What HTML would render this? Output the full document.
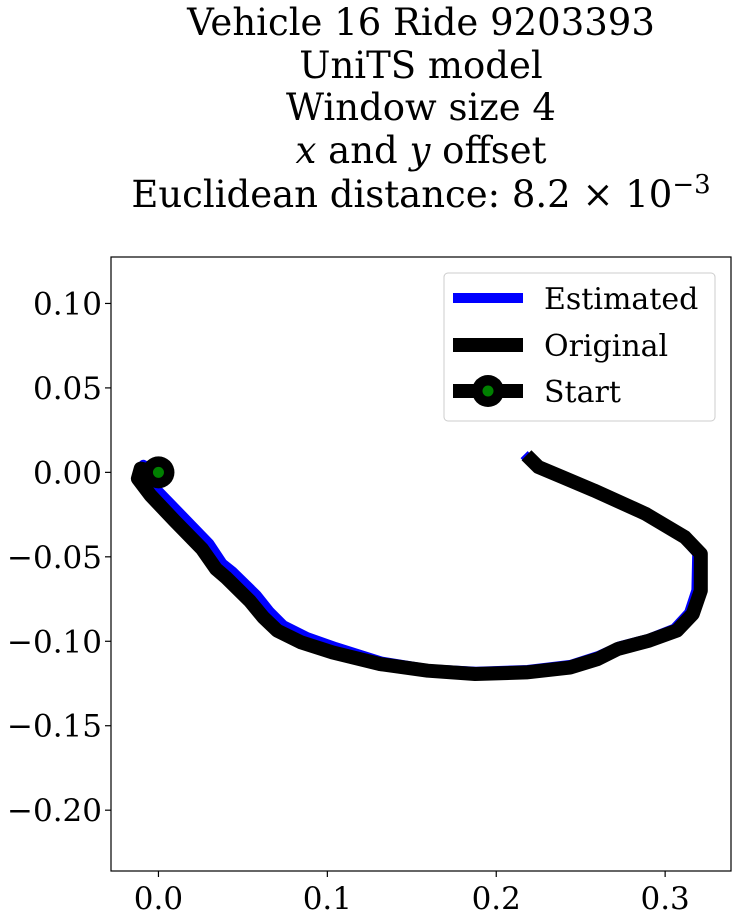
<!DOCTYPE html>
<html><head><meta charset="utf-8"><style>
html,body{margin:0;padding:0;background:#fff;}
svg{display:block;font-family:"DejaVu Serif","Liberation Serif",serif;}
</style></head><body>
<svg id="chart" width="738" height="920" viewBox="0 0 738 920">
<g font-size="37" text-anchor="middle" fill="#000">
<text x="421" y="35">Vehicle 16 Ride 9203393</text>
<text x="421" y="78">UniTS model</text>
<text x="421" y="120">Window size 4</text>
<text x="421" y="163"><tspan font-style="italic">x</tspan> and <tspan font-style="italic">y</tspan> offset</text>
<text x="421" y="207">Euclidean distance: 8.2 × 10<tspan dy="-14" font-size="26">−3</tspan></text>
</g>
<g id="plot"></g>
<rect x="111" y="257" width="620" height="614" fill="none" stroke="#000" stroke-width="1.2"/>
<g id="xaxis"></g>
<g id="yaxis"></g>
<g>
<rect x="444" y="273" width="271" height="148" rx="4" fill="#fff" stroke="#ccc" stroke-width="1"/>
<line x1="453" y1="298" x2="523" y2="298" stroke="#0000ff" stroke-width="10"/>
<text x="544" y="309" font-size="30">Estimated</text>
<line x1="453" y1="345" x2="523" y2="345" stroke="#000" stroke-width="14"/>
<text x="544" y="356" font-size="30">Original</text>
<line x1="453" y1="391" x2="523" y2="391" stroke="#000" stroke-width="14"/>
<circle cx="488" cy="391" r="16" fill="#000"/>
<circle cx="488" cy="391" r="5.5" fill="#008000"/>
<text x="544" y="402" font-size="30">Start</text>
</g>
</svg>
<script>
const origX=[0,-0.0105,-0.0122,-0.0047,0.0094,0.0258,0.034,0.0399,0.0539,0.0621,0.0703,0.0844,0.1031,0.1312,0.1594,0.1875,0.2179,0.2437,0.2601,0.2719,0.2906,0.307,0.3164,0.3211,0.3211,0.3117,0.2883,0.2578,0.2391,0.225,0.2179];
const origY=[0,0.0022,-0.0037,-0.0136,-0.0285,-0.0453,-0.0571,-0.0621,-0.0759,-0.0858,-0.0937,-0.1006,-0.1066,-0.1135,-0.1174,-0.1194,-0.1184,-0.1155,-0.1105,-0.1046,-0.0996,-0.0937,-0.0838,-0.07,-0.0482,-0.0384,-0.0245,-0.0107,-0.0028,0.0031,0.0101];
const estX=[0,-0.0090,-0.0105,-0.0010,0.0135,0.0300,0.0380,0.0440,0.0580,0.0660,0.0740,0.0880,0.1050,0.1320,0.1594,0.1880,0.2185,0.2440,0.2610,0.2730,0.2905,0.3055,0.3142,0.3185,0.3190,0.3105,0.2878,0.2572,0.2385,0.2235,0.2165];
const estY=[0,0.0045,-0.0010,-0.0100,-0.0250,-0.0420,-0.0540,-0.0588,-0.0725,-0.0825,-0.0905,-0.0975,-0.1035,-0.1120,-0.1165,-0.1180,-0.1170,-0.1140,-0.1085,-0.1030,-0.0985,-0.0925,-0.0830,-0.0698,-0.0480,-0.0382,-0.0243,-0.0105,-0.0025,0.0035,0.0105];
const xTicks=[0.0,0.1,0.2,0.3];
const xTickLabels=["0.0","0.1","0.2","0.3"];
const yTicks=[0.10,0.05,0.00,-0.05,-0.10,-0.15,-0.20];
const yTickLabels=["0.10","0.05","0.00","\u22120.05","\u22120.10","\u22120.15","\u22120.20"];
const startX=[0];
const startY=[0];

const NS="http://www.w3.org/2000/svg";
const X0=-0.0281,X1=0.339,PX0=111,PX1=731;
const Y0=-0.236,Y1=0.1275,PY0=871,PY1=257;
function sx(v){return PX0+(v-X0)/(X1-X0)*(PX1-PX0);}
function sy(v){return PY0+(v-Y0)/(Y1-Y0)*(PY1-PY0);}
function mk(tag,attrs,parent){const e=document.createElementNS(NS,tag);for(const k in attrs)e.setAttribute(k,attrs[k]);parent.appendChild(e);return e;}
const plot=document.getElementById('plot');
function pathD(xs,ys){return xs.map((x,i)=>(i?'L':'M')+sx(x).toFixed(1)+','+sy(ys[i]).toFixed(1)).join(' ');}
const pe=mk('path',{d:pathD(estX,estY),fill:'none',stroke:'#0000ff','stroke-width':10,'stroke-linejoin':'round'},plot);


const po=mk('path',{d:pathD(origX,origY),fill:'none',stroke:'#000','stroke-width':14,'stroke-linejoin':'round'},plot);


const sm=mk('circle',{cx:sx(startX[0]),cy:sy(startY[0]),r:16,fill:'#000'},plot);


const sd=mk('circle',{cx:sx(startX[0]),cy:sy(startY[0]),r:5.5,fill:'#008000'},plot);


const xa=document.getElementById('xaxis');
xTicks.forEach((t,i)=>{
 const l=mk('line',{x1:sx(t),x2:sx(t),y1:871,y2:877,stroke:'#000','stroke-width':1.2},xa);
 
 
 const tx=mk('text',{x:sx(t),y:909,'font-size':31,'text-anchor':'middle'},xa);
 tx.textContent=xTickLabels[i];
 
 
});
const ya=document.getElementById('yaxis');
yTicks.forEach((t,i)=>{
 const l=mk('line',{x1:105,x2:111,y1:sy(t),y2:sy(t),stroke:'#000','stroke-width':1.2},ya);
 
 
 const tx=mk('text',{x:102,y:sy(t)+11,'font-size':31,'text-anchor':'end'},ya);
 tx.textContent=yTickLabels[i];
 
 
});
</script>
</body></html>
